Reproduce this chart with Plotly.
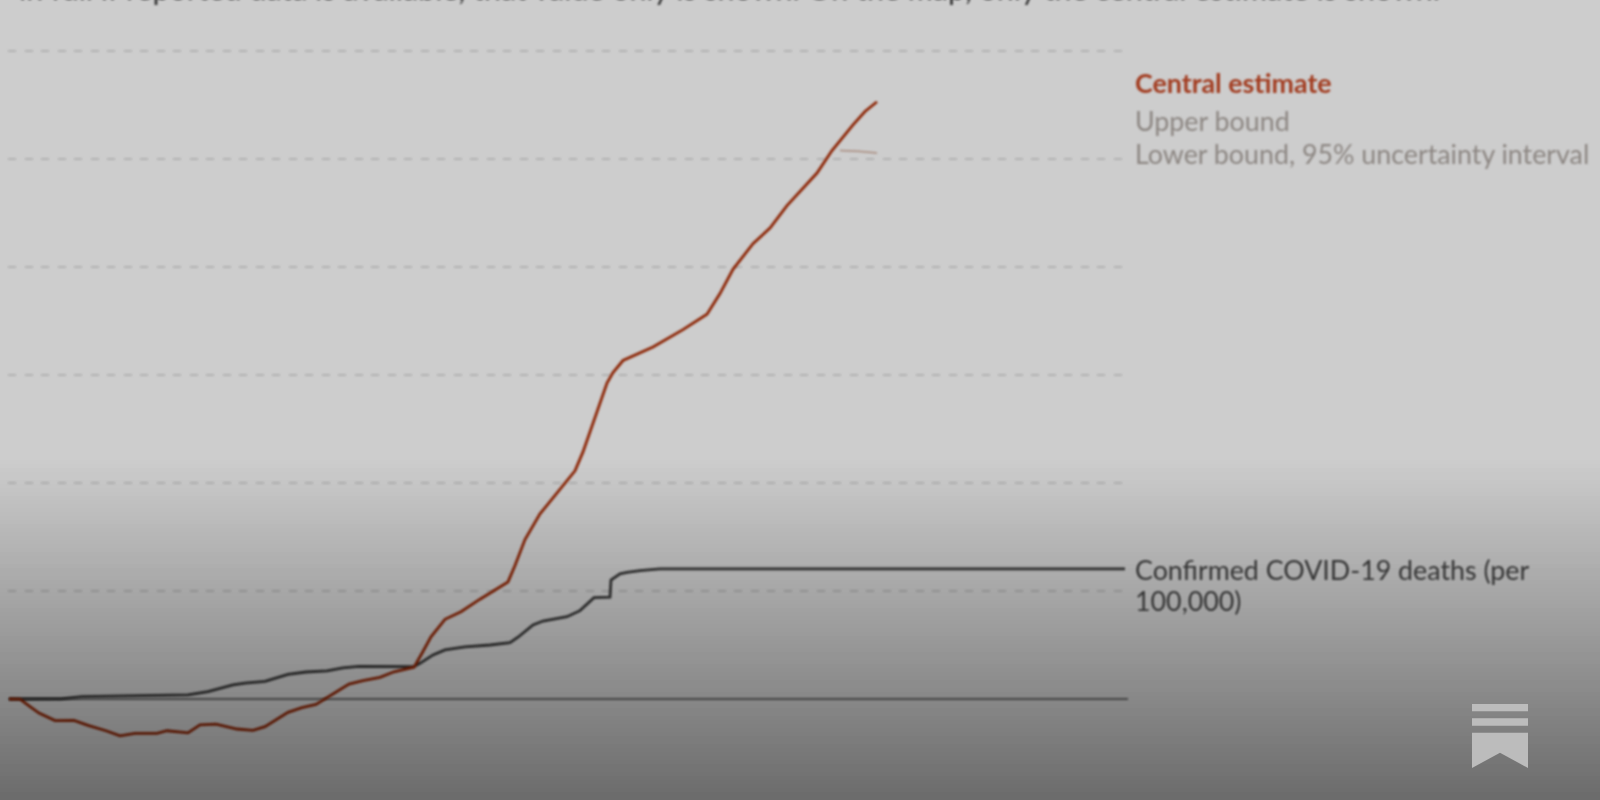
import plotly.graph_objects as go

W, H = 1600, 800

# days from the left edge of the plot, values per 100,000
central_x = [1, 12, 21, 31, 47, 66, 80, 98, 112, 127, 149, 159, 180, 192, 208, 229, 245, 257,
             280, 294, 308, 323, 341, 355, 372, 386, 406, 414, 423, 437, 453, 472, 500, 507,
             517, 532, 567, 575, 589, 599, 605, 615, 645, 675, 699, 712, 725, 745, 762, 779,
             809, 824, 845, 857, 869]
central_y = [0, -0.1, -3.2, -6.5, -10, -9.9, -12.2, -14.7, -17.1, -15.9, -15.9, -14.7, -15.7, -12,
             -11.6, -13.9, -14.5, -12.8, -6.2, -4, -2.5, 1.9, 6.9, 8.5, 10, 12.6, 14.7, 21.2,
             28.8, 36.9, 40.4, 46.2, 54.2, 61.8, 73.8, 85.7, 105.6, 114.4, 133.5, 146.3, 151.1,
             156.7, 163, 171, 178.1, 187.7, 198.9, 210.8, 218, 228.4, 243.5, 253.9, 265.8,
             272, 276.5]

bound_x = [832, 850, 869]
bound_y = [253.9, 253.6, 252.8]

confirmed_x = [1, 17, 53, 74, 127, 168, 180, 200, 225, 237, 257, 280, 298, 319, 335, 351, 380,
               406, 412, 425, 437, 457, 482, 502, 510, 525, 535, 559, 572, 586, 602, 603, 612,
               619, 632, 652, 1117]
confirmed_y = [0, 0, 0.1, 1.1, 1.4, 1.5, 1.9, 3.4, 6.5, 7.3, 8.2, 11.4, 12.5, 13, 14.4, 15.1, 15.1,
               15, 16.5, 20.4, 22.7, 24.1, 25, 26.1, 28.6, 34.3, 36.1, 38.1, 40.9, 46.9, 47.1,
               55.1, 57.9, 58.6, 59.4, 60.2, 60.2]

grid_ticks = [0, 50, 100, 150, 200, 250, 300]

LEFT, RIGHT = 8, 1128
FONT = "Lato"


def paper_x(px):
    return (px - LEFT) / (RIGHT - LEFT)


def paper_y(py):
    return (H - py) / H


def label(text, px, py, color, weight=400, size=26.8, anchor="left"):
    return dict(text=text, xref="paper", yref="paper", x=paper_x(px), y=paper_y(py),
                xanchor=anchor, yanchor="middle", align="left", showarrow=False,
                borderpad=0, borderwidth=0,
                font=dict(family=FONT, size=size, color=color, weight=weight))


fig = go.Figure()
fig.add_trace(go.Scatter(x=bound_x, y=bound_y, mode="lines", line=dict(color="#a88a7c", width=1.5)))
fig.add_trace(go.Scatter(x=confirmed_x, y=confirmed_y, mode="lines", line=dict(color="#333333", width=2.8)))
fig.add_trace(go.Scatter(x=central_x, y=central_y, mode="lines", line=dict(color="#8c2404", width=2.8)))

# fade to dark at the bottom of the page, drawn over the chart
shapes = []
FADE_TOP = 460
for top in range(FADE_TOP, H, 4):
    alpha = 1 - (205 - 98 * (top + 2 - FADE_TOP) / (H - FADE_TOP)) / 205
    shapes.append(dict(type="rect", xref="paper", yref="paper", layer="above",
                       x0=paper_x(0), x1=paper_x(W), y0=paper_y(top + 4), y1=paper_y(top),
                       fillcolor=f"rgba(0,0,0,{alpha:.3f})", line_width=0))

# publisher mark, bottom right
LOGO = "#bcbcbc"
for y0, y1 in [(704, 711.3), (718.3, 725.7)]:
    shapes.append(dict(type="rect", xref="paper", yref="paper", layer="above",
                       x0=paper_x(1472), x1=paper_x(1528), y0=paper_y(y1), y1=paper_y(y0),
                       fillcolor=LOGO, line_width=0))
logo_pts = [(1472, 732.7), (1528, 732.7), (1528, 768), (1500, 752.7), (1472, 768)]
logo_path = "M " + " L ".join(f"{paper_x(a):.5f},{paper_y(b):.5f}" for a, b in logo_pts) + " Z"
shapes.append(dict(type="path", xref="paper", yref="paper", layer="above", path=logo_path,
                   fillcolor=LOGO, line_width=0))

annotations = [
    label("Central estimate", 1135, 83, "#a23c20", weight=700),
    label("Upper bound", 1135, 121, "#8c8682"),
    label("Lower bound, 95% uncertainty interval", 1135, 154, "#8c8682"),
    label("Confirmed COVID-19 deaths (per", 1135, 570, "#333333"),
    label("100,000)", 1135, 601, "#333333"),
    label("in full if reported data is available, that value only is shown. On the map, only the "
          "central estimate is shown.", 1440, -11.5, "#333333", size=30.4, anchor="right"),
]

fig.update_layout(
    width=W, height=H,
    margin=dict(l=LEFT, r=W - RIGHT, t=0, b=0),
    paper_bgcolor="#cdcdcd", plot_bgcolor="#cdcdcd",
    showlegend=False,
    shapes=shapes,
    annotations=annotations,
    xaxis=dict(range=[0, RIGHT - LEFT], visible=False),
    yaxis=dict(range=[-46.76, 323.6], tickvals=grid_ticks, showticklabels=False, ticks="",
               showline=False, showgrid=True, gridcolor="#b2b2b2", griddash="8px,8.5px", gridwidth=2.4,
               zeroline=True, zerolinecolor="#666666", zerolinewidth=2),
)

# page margin off so the figure fills the window; the source picture is a blurred upscale
page_js = ("document.body.style.margin = '0'; document.body.style.overflow = 'hidden';"
           "document.querySelectorAll('.scatterlayer, .annotation, .gridlayer, .zerolinelayer')"
           ".forEach(function (e) { e.style.filter = 'blur(0.85px)'; });")
fig.write_html("out.html", post_script=page_js, config=dict(displayModeBar=False))
